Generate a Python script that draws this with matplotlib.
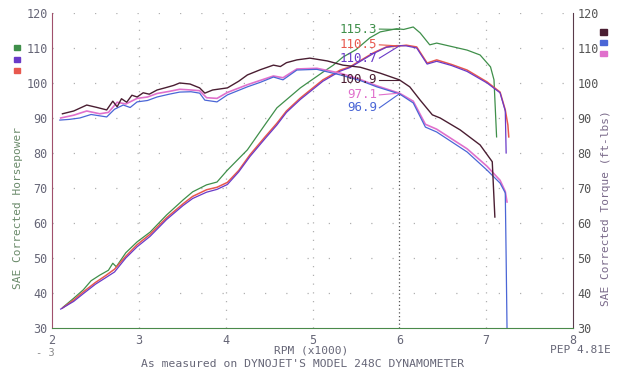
import matplotlib
matplotlib.use('Agg')
import matplotlib.pyplot as plt

plt.rcParams['font.family'] = ['DejaVu Sans Mono']

# torque runs (ft-lbs) vs rpm x1000
rpm_t1 = [2.12, 2.25, 2.40, 2.52, 2.63, 2.70, 2.75, 2.80, 2.86, 2.92, 2.98, 3.05, 3.12, 3.21, 3.30,
          3.40, 3.47, 3.59, 3.70, 3.76, 3.85, 4.02, 4.15, 4.25, 4.40, 4.55, 4.63, 4.70, 4.82, 4.97,
          5.17, 5.35, 5.55, 5.78, 6.00, 6.12, 6.24, 6.38, 6.47, 6.70, 6.93, 7.07, 7.10]
tq_1 = [91.2, 92.0, 93.7, 93.0, 92.3, 94.8, 93.2, 95.5, 94.5, 96.5, 96.0, 97.2, 96.8, 98.0, 98.6,
        99.3, 100.0, 99.7, 98.6, 97.1, 98.0, 98.6, 100.5, 102.3, 103.8, 105.1, 104.7, 105.8, 106.6, 107.1,
        106.3, 105.1, 104.5, 102.8, 100.9, 98.9, 95.1, 90.9, 90.0, 86.6, 82.3, 77.5, 61.7]

rpm_t2 = [2.09, 2.20, 2.32, 2.45, 2.63, 2.72, 2.82, 2.90, 2.98, 3.10, 3.21, 3.35, 3.47, 3.60, 3.70,
          3.76, 3.90, 4.02, 4.25, 4.40, 4.55, 4.66, 4.82, 5.05, 5.32, 5.55, 5.74, 6.00, 6.16, 6.30,
          6.43, 6.78, 7.01, 7.16, 7.22, 7.23, 7.24]
tq_2 = [89.4, 89.6, 90.0, 91.0, 90.3, 92.5, 93.7, 93.0, 94.6, 95.0, 96.0, 96.8, 97.4, 97.5, 97.1,
        95.1, 94.6, 96.6, 98.9, 100.2, 101.7, 100.9, 103.7, 103.9, 102.3, 100.7, 98.9, 96.9, 94.3, 87.4,
        86.0, 80.3, 75.1, 71.4, 68.6, 50.0, 30.0]

rpm_t3 = [2.10, 2.25, 2.40, 2.55, 2.65, 2.75, 2.85, 2.98, 3.10, 3.21, 3.35, 3.47, 3.60, 3.70, 3.78,
          3.90, 4.02, 4.25, 4.55, 4.66, 4.82, 5.05, 5.32, 5.55, 5.74, 6.00, 6.16, 6.30, 6.43, 6.78,
          7.01, 7.16, 7.22, 7.24]
tq_3 = [90.0, 90.8, 92.0, 91.2, 91.6, 94.5, 94.0, 95.6, 96.0, 97.0, 97.6, 98.2, 98.0, 97.8, 95.8,
        95.6, 97.3, 99.5, 102.0, 101.5, 104.0, 104.2, 102.8, 101.0, 99.2, 97.1, 94.8, 88.2, 86.8, 81.2,
        76.2, 72.2, 69.0, 66.0]

# horsepower runs
rpm_h1 = [2.13, 2.25, 2.36, 2.45, 2.55, 2.65, 2.70, 2.74, 2.85, 2.98, 3.13, 3.32, 3.51, 3.62, 3.78,
          3.90, 4.02, 4.25, 4.45, 4.59, 4.86, 5.12, 5.24, 5.35, 5.50, 5.66, 5.78, 5.97, 6.05, 6.16,
          6.24, 6.35, 6.43, 6.78, 6.93, 7.05, 7.09, 7.11, 7.12]
hp_1 = [36.0, 38.5, 40.9, 43.5, 45.1, 46.5, 48.5, 47.5, 51.5, 54.6, 57.4, 62.3, 66.6, 68.9, 70.9,
        71.7, 75.1, 80.9, 88.0, 92.9, 98.6, 103.1, 105.1, 107.4, 109.5, 112.9, 114.6, 115.5, 115.3, 116.0,
        114.3, 110.9, 111.4, 109.4, 108.0, 104.6, 100.9, 90.0, 84.6]

rpm_h2 = [2.12, 2.25, 2.36, 2.50, 2.62, 2.72, 2.85, 2.98, 3.13, 3.32, 3.51, 3.62, 3.78, 3.90, 4.02,
          4.15, 4.28, 4.45, 4.59, 4.70, 4.86, 5.12, 5.32, 5.43, 5.70, 5.85, 5.97, 6.08, 6.20, 6.32,
          6.43, 6.60, 6.78, 7.01, 7.16, 7.22, 7.25, 7.26]
hp_2 = [35.7, 38.0, 40.3, 43.0, 45.0, 46.8, 50.5, 53.8, 56.8, 61.5, 65.5, 67.6, 69.5, 70.2, 71.6,
        75.0, 79.5, 84.5, 88.5, 92.0, 95.7, 100.9, 103.7, 104.6, 108.6, 110.3, 110.5, 110.8, 110.3, 105.7,
        106.6, 105.3, 103.7, 100.3, 97.4, 92.3, 88.0, 84.6]

rpm_h3 = [2.10, 2.25, 2.36, 2.50, 2.62, 2.72, 2.85, 2.98, 3.13, 3.32, 3.51, 3.62, 3.78, 3.90, 4.02,
          4.15, 4.28, 4.45, 4.59, 4.70, 4.86, 5.12, 5.32, 5.43, 5.70, 5.85, 5.97, 6.08, 6.20, 6.32,
          6.43, 6.60, 6.78, 7.01, 7.16, 7.22, 7.23]
hp_3 = [35.4, 37.6, 39.8, 42.5, 44.4, 46.0, 50.0, 53.2, 56.2, 61.0, 65.0, 67.0, 68.8, 69.6, 71.0,
        74.6, 79.0, 84.0, 88.0, 91.6, 95.3, 100.5, 103.4, 104.4, 108.4, 110.2, 110.7, 110.6, 110.0, 105.4,
        106.2, 105.0, 103.3, 100.0, 97.2, 92.0, 80.0]

cursor_rpm = 6.0
cursor_labels = ['115.3', '110.5', '110.7', '100.9', '97.1', '96.9']
cursor_vals = [115.3, 110.6, 110.6, 100.9, 97.1, 96.9]
label_y = [115.4, 110.9, 107.1, 100.9, 96.6, 92.9]

c_green = '#3f8f4a'
c_red = '#e8584e'
c_purple = '#6a3ac8'
c_dark = '#4a1e32'
c_blue = '#4a66d6'
c_pink = '#e070cc'
label_colors = [c_green, c_red, c_purple, c_dark, c_pink, c_blue]

fig = plt.figure(figsize=(6.17, 3.72), dpi=100)
ax = fig.add_axes([0.0843, 0.1183, 0.8444, 0.8468])
ax.set_xlim(2, 8)
ax.set_ylim(30, 120)

# dotted grid
for v in range(40, 121, 10):
    ax.axhline(v, color='#b0b0b0', lw=0.9, ls=(0, (1, 16)), zorder=0)
for r in [3, 4, 5, 7]:
    ax.axvline(r, color='#b0b0b0', lw=0.9, ls=(0, (1, 6)), zorder=0)
ax.axvline(cursor_rpm, color='#555555', lw=0.9, ls=(0, (1, 2)), zorder=1)

ax.plot(rpm_h1, hp_1, color=c_green, lw=0.9)
ax.plot(rpm_h2, hp_2, color=c_red, lw=1.1)
ax.plot(rpm_h3, hp_3, color=c_purple, lw=0.9)
ax.plot(rpm_t3, tq_3, color=c_pink, lw=1.2)
ax.plot(rpm_t2, tq_2, color=c_blue, lw=0.9)
ax.plot(rpm_t1, tq_1, color=c_dark, lw=1.0)

# cursor readouts
for lab, v, ly, col in zip(cursor_labels, cursor_vals, label_y, label_colors):
    ax.text(5.74, ly, lab, color=col, fontsize=9, ha='right', va='center')
    ax.plot([5.77, cursor_rpm], [ly, v], color=col, lw=0.8)

ax.spines['top'].set_visible(False)
ax.spines['left'].set_color('#a0506c')
ax.spines['bottom'].set_color('#4a8a4a')
ax.spines['right'].set_color('#5a3a4a')

ticks = list(range(30, 121, 10))
ax.set_yticks(ticks)
ax.set_yticklabels([str(t) for t in ticks])
ax.set_xticks(range(2, 9))
ax.tick_params(length=0, labelsize=8.5, colors='#666677', pad=3)
ax.tick_params(axis='x', pad=4)

ax2 = ax.twinx()
ax2.set_ylim(30, 120)
ax2.set_yticks(ticks)
ax2.tick_params(length=0, labelsize=8.5, colors='#555555', pad=3)
for s in ax2.spines.values():
    s.set_visible(False)

fig.text(0.029, 0.44, 'SAE Corrected Horsepower', rotation=90, ha='center', va='center',
         fontsize=8, color='#6a8a6a')
fig.text(0.982, 0.44, 'SAE Corrected Torque (ft-lbs)', rotation=90, ha='center', va='center',
         fontsize=8, color='#7a6a8a')
fig.text(0.505, 0.058, 'RPM (x1000)', ha='center', va='center', fontsize=8, color='#666677')
fig.text(0.49, 0.022, "As measured on DYNOJET'S MODEL 248C DYNAMOMETER", ha='center', va='center',
         fontsize=8.2, color='#666677')
fig.text(0.94, 0.058, 'PEP 4.81E', ha='center', va='center', fontsize=8, color='#666677')
fig.text(0.073, 0.052, '- 3', ha='center', va='center', fontsize=7.5, color='#888888')

# run colour keys
for yy, col in zip([0.865, 0.833, 0.804], [c_green, c_purple, c_red]):
    fig.patches.append(plt.Rectangle((0.022, yy), 0.011, 0.014, color=col, transform=fig.transFigure))
for yy, col in zip([0.907, 0.878, 0.849], [c_dark, c_blue, c_pink]):
    fig.patches.append(plt.Rectangle((0.972, yy), 0.011, 0.014, color=col, transform=fig.transFigure))

fig.savefig('out.png', dpi=100)
